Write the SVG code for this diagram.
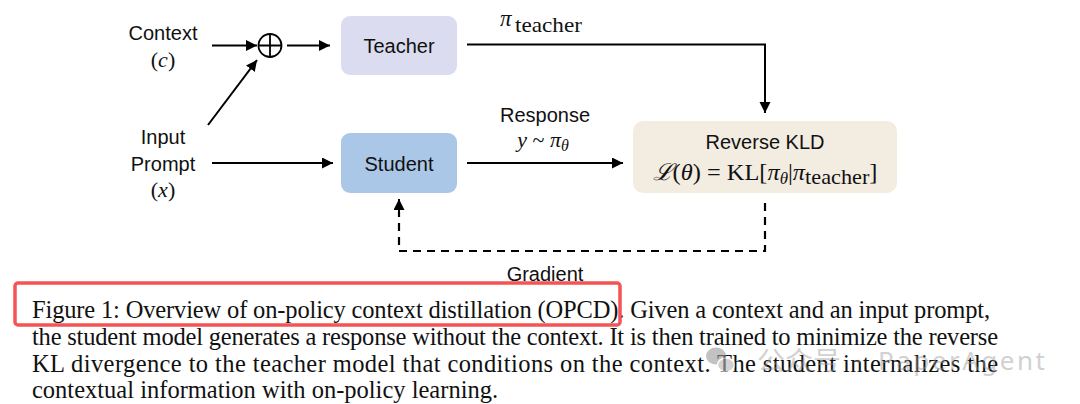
<svg xmlns="http://www.w3.org/2000/svg" width="1080" height="404" viewBox="0 0 1080 404">
<defs>
<marker id="ah" markerUnits="userSpaceOnUse" markerWidth="12" markerHeight="12" refX="11" refY="5.5" orient="auto">
<path d="M0,0 L11,5.5 L0,11 z" fill="#000"/>
</marker>
<style>
.sans{font-family:"Liberation Sans",Arial,sans-serif;font-size:20px;fill:#111}
.math{font-family:"Liberation Serif","DejaVu Serif",serif;fill:#111}
.it{font-style:italic}
.ln{stroke:#000;stroke-width:2;fill:none}
.dash{stroke:#000;stroke-width:2.2;fill:none;stroke-dasharray:8 6}
.cap{font-family:"Liberation Serif","Times New Roman",serif;font-size:24.5px;fill:#111}
.wm{font-family:"Noto Sans","Noto Sans CJK SC",sans-serif;font-size:26px;fill:#9a9a9a;opacity:0.75}
</style>
</defs>
<rect width="1080" height="404" fill="#fff"/>

<g id="context">
<text class="sans" x="163" y="40" text-anchor="middle">Context</text>
<text class="math" x="163" y="67" text-anchor="middle" font-size="22">(<tspan class="it">c</tspan>)</text>
</g>
<g id="input-prompt">
<text class="sans" x="163" y="144" text-anchor="middle">Input</text>
<text class="sans" x="163" y="171" text-anchor="middle">Prompt</text>
<text class="math" x="163" y="197" text-anchor="middle" font-size="22">(<tspan class="it">x</tspan>)</text>
</g>
<g id="concat">
<circle cx="270" cy="45.5" r="11.5" fill="none" stroke="#000" stroke-width="1.8"/>
<path d="M258.5,45.5 H281.5 M270,34 V57" stroke="#000" stroke-width="1.8"/>
</g>
<g id="teacher">
<rect x="341" y="16" width="116" height="59" rx="9" fill="#dcdcf0"/>
<text class="sans" x="399" y="53" text-anchor="middle">Teacher</text>
</g>
<g id="student">
<rect x="341" y="133" width="116" height="60" rx="9" fill="#abc7e8"/>
<text class="sans" x="399" y="171" text-anchor="middle">Student</text>
</g>
<g id="reverse-kld">
<rect x="633" y="121" width="264" height="72" rx="10" fill="#f3ece1"/>
<text class="sans" x="765" y="149" text-anchor="middle">Reverse KLD</text>
<text class="math" x="765" y="180" text-anchor="middle" font-size="23" textLength="225" lengthAdjust="spacingAndGlyphs"><tspan class="it">ℒ</tspan>(<tspan class="it">θ</tspan>) = KL[<tspan class="it">π</tspan><tspan class="it" font-size="16" dy="4">θ</tspan><tspan dy="-4">|</tspan><tspan class="it">π</tspan><tspan font-size="21" dy="4">teacher</tspan><tspan dy="-4">]</tspan></text>
</g>

<g id="connectors">
<line class="ln" x1="212" y1="45.5" x2="257" y2="45.5" marker-end="url(#ah)"/>
<line class="ln" x1="208" y1="125" x2="257" y2="60" marker-end="url(#ah)"/>
<line class="ln" x1="287" y1="45.5" x2="330" y2="45.5" marker-end="url(#ah)"/>
<line class="ln" x1="212" y1="163" x2="333" y2="163" marker-end="url(#ah)"/>
<polyline class="ln" points="467,44.5 765,44.5 765,113" marker-end="url(#ah)"/>
<line class="ln" x1="467" y1="163" x2="623" y2="163" marker-end="url(#ah)"/>
<polyline class="dash" points="765,203 765,251 399,251 399,212"/>
<line class="ln" x1="399" y1="212" x2="399" y2="199" marker-end="url(#ah)"/>
<text class="math" x="500" y="26" font-size="23"><tspan class="it">π</tspan><tspan x="515" y="32" font-size="21" textLength="67" lengthAdjust="spacingAndGlyphs">teacher</tspan></text>
<text class="sans" x="545" y="122" text-anchor="middle">Response</text>
<text class="math" x="543" y="147" text-anchor="middle" font-size="22"><tspan class="it">y</tspan> ~ <tspan class="it">π</tspan><tspan class="it" font-size="16" dy="4">θ</tspan></text>
<text class="sans" x="545" y="281" text-anchor="middle">Gradient</text>
</g>

<g id="caption">
<text class="cap" x="32" y="318" textLength="958" lengthAdjust="spacing">Figure 1: Overview of on-policy context distillation (OPCD). Given a context and an input prompt,</text>
<text class="cap" x="32" y="345" textLength="966" lengthAdjust="spacing">the student model generates a response without the context. It is then trained to minimize the reverse</text>
<text class="cap" x="32" y="372" textLength="966" lengthAdjust="spacing">KL divergence to the teacher model that conditions on the context.  The student internalizes the</text>
<text class="cap" x="32" y="398">contextual information with on-policy learning.</text>
</g>
<rect x="15" y="283" width="605" height="42" rx="3" fill="none" stroke="#f45454" stroke-width="3.5"/>

<g id="watermark" opacity="0.6">
<ellipse cx="716" cy="356" rx="10" ry="8.5" fill="#9a9a9a"/>
<ellipse cx="726" cy="365" rx="8.5" ry="7" fill="#b5b5b5" stroke="#fff" stroke-width="1.5"/>
<text class="wm" x="757" y="370" textLength="84" lengthAdjust="spacingAndGlyphs">公众号</text>
<text class="wm" x="855" y="370">·</text>
<text class="wm" x="878" y="370" textLength="167" lengthAdjust="spacing">PaperAgent</text>
</g>
</svg>
